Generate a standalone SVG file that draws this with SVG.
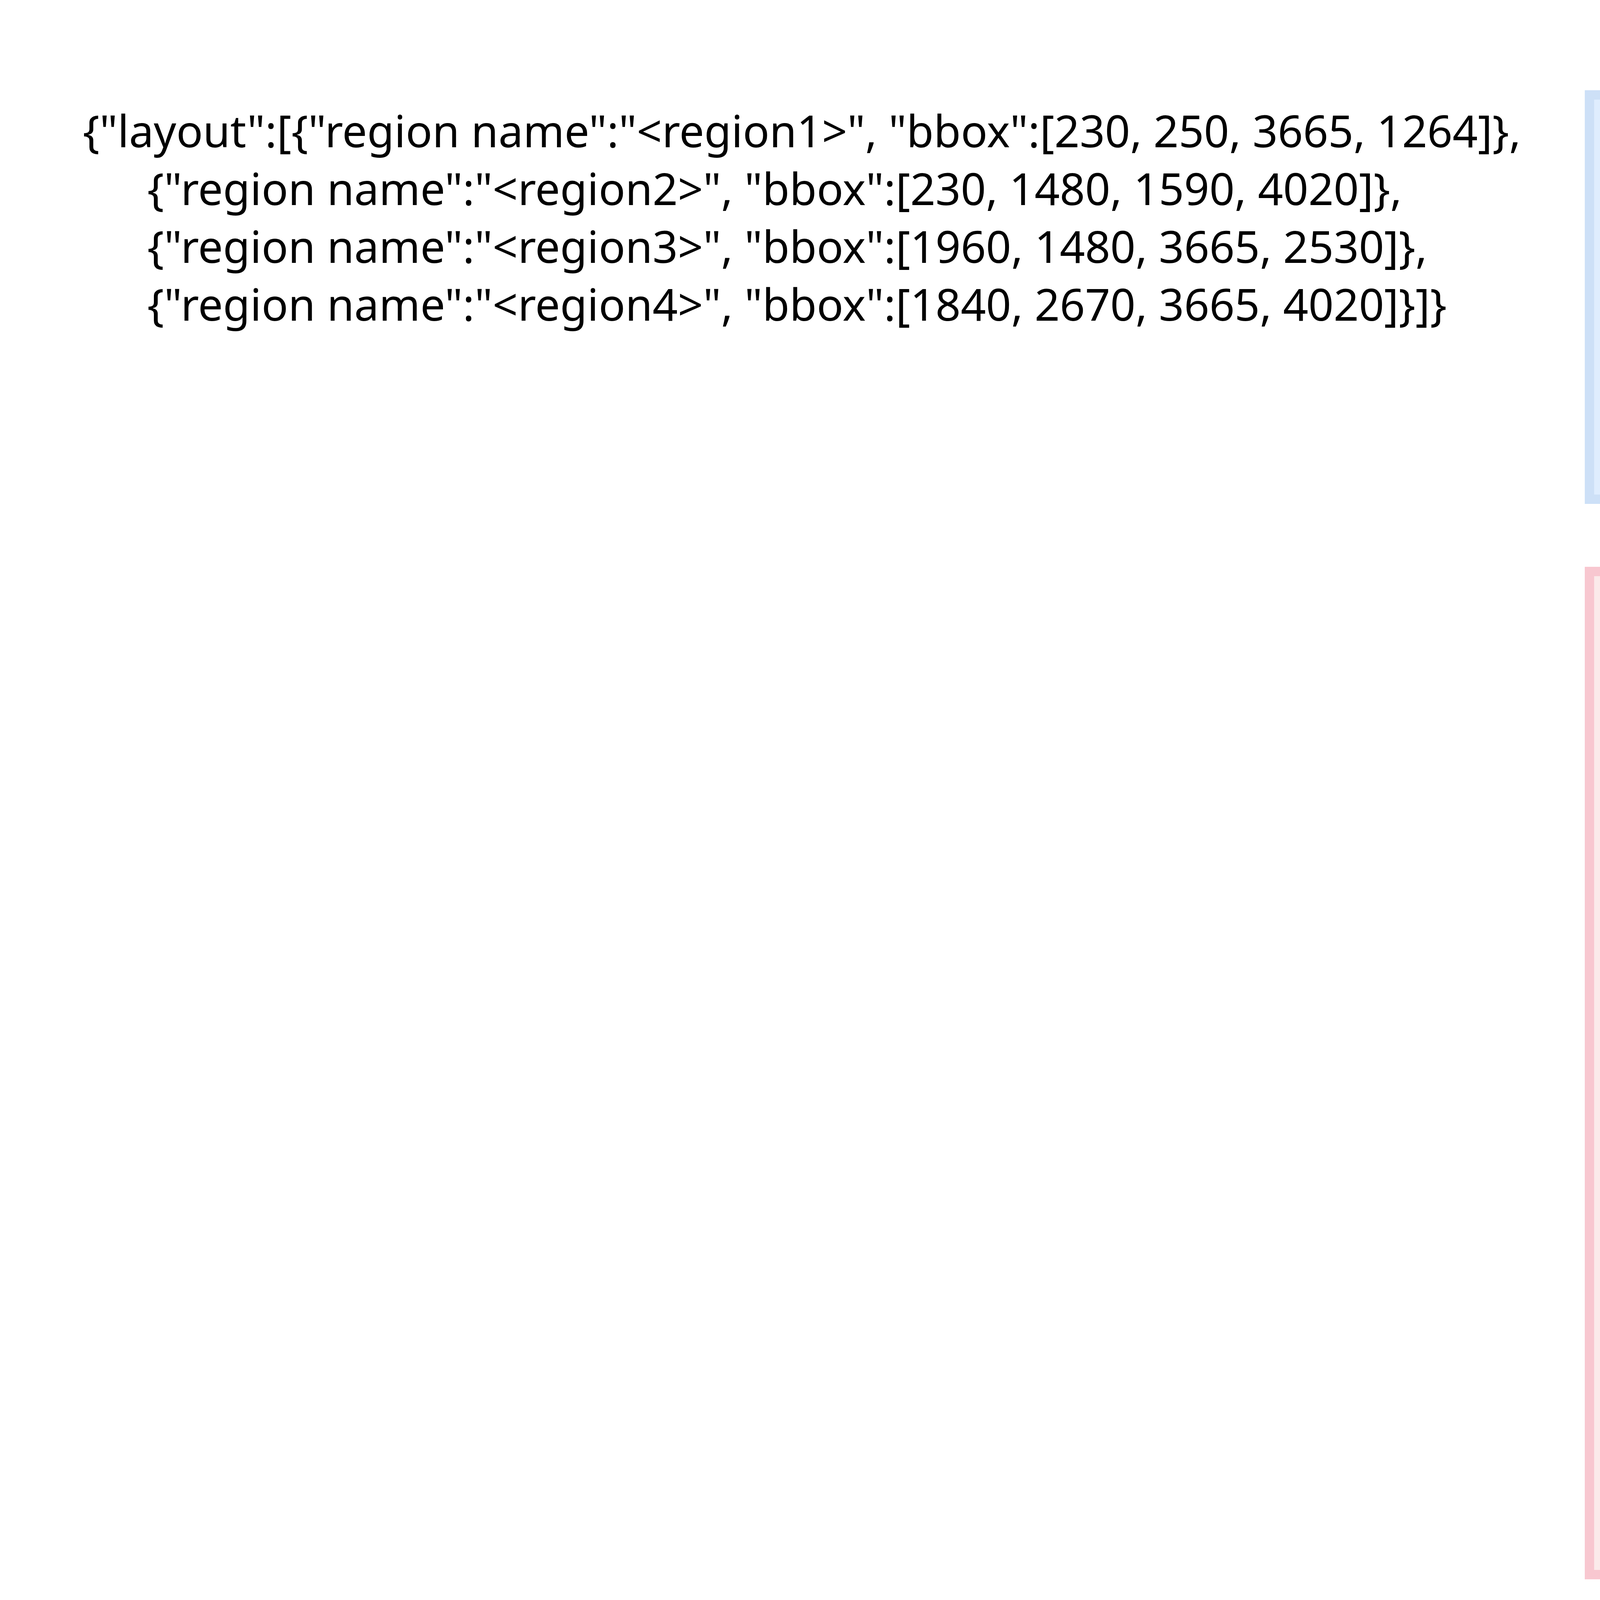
<svg xmlns="http://www.w3.org/2000/svg" width="7680" height="4320" viewBox="0 0 7680 4320">
<style>
text{font-family:"Noto Sans","Open Sans","DejaVu Sans",sans-serif;fill:#000}
.json{font-size:113px}
.lbl{font-size:134px;text-anchor:middle}
.box{stroke-width:24}
#region1 rect{fill:#dfedfe;stroke:#cde0f7}
#region2 rect{fill:#fbeaea;stroke:#f8c7d0}
#region3 rect{fill:#e0f8dd;stroke:#c2f2bc}
#region4 rect{fill:#fbebdb;stroke:#f5dbb9}
</style>
<rect width="7680" height="4320" fill="#ffffff"/>
<g id="layout-text">
<text class="json" x="212" y="377">{"layout":[{"region name":"&lt;region1&gt;", "bbox":[230, 250, 3665, 1264]},</text>
<text class="json" x="377" y="525">{"region name":"&lt;region2&gt;", "bbox":[230, 1480, 1590, 4020]},</text>
<text class="json" x="377" y="673">{"region name":"&lt;region3&gt;", "bbox":[1960, 1480, 3665, 2530]},</text>
<text class="json" x="377" y="821">{"region name":"&lt;region4&gt;", "bbox":[1840, 2670, 3665, 4020]}]}</text>
</g>
<g id="region1">
<rect class="box" x="4069" y="243" width="3438" height="1035"/>
<text class="lbl" x="5788" y="807">&lt;region1&gt;</text>
</g>
<g id="region2">
<rect class="box" x="4069" y="1463" width="1370" height="2568"/>
<text class="lbl" x="4754" y="2793">&lt;region2&gt;</text>
</g>
<g id="region3">
<rect class="box" x="5786" y="1463" width="1721" height="1084"/>
<text class="lbl" x="6646" y="2051">&lt;region3&gt;</text>
</g>
<g id="region4">
<rect class="box" x="5668" y="2662" width="1839" height="1369"/>
<text class="lbl" x="6587" y="3393">&lt;region4&gt;</text>
</g>
<g id="connectors"/>
</svg>
